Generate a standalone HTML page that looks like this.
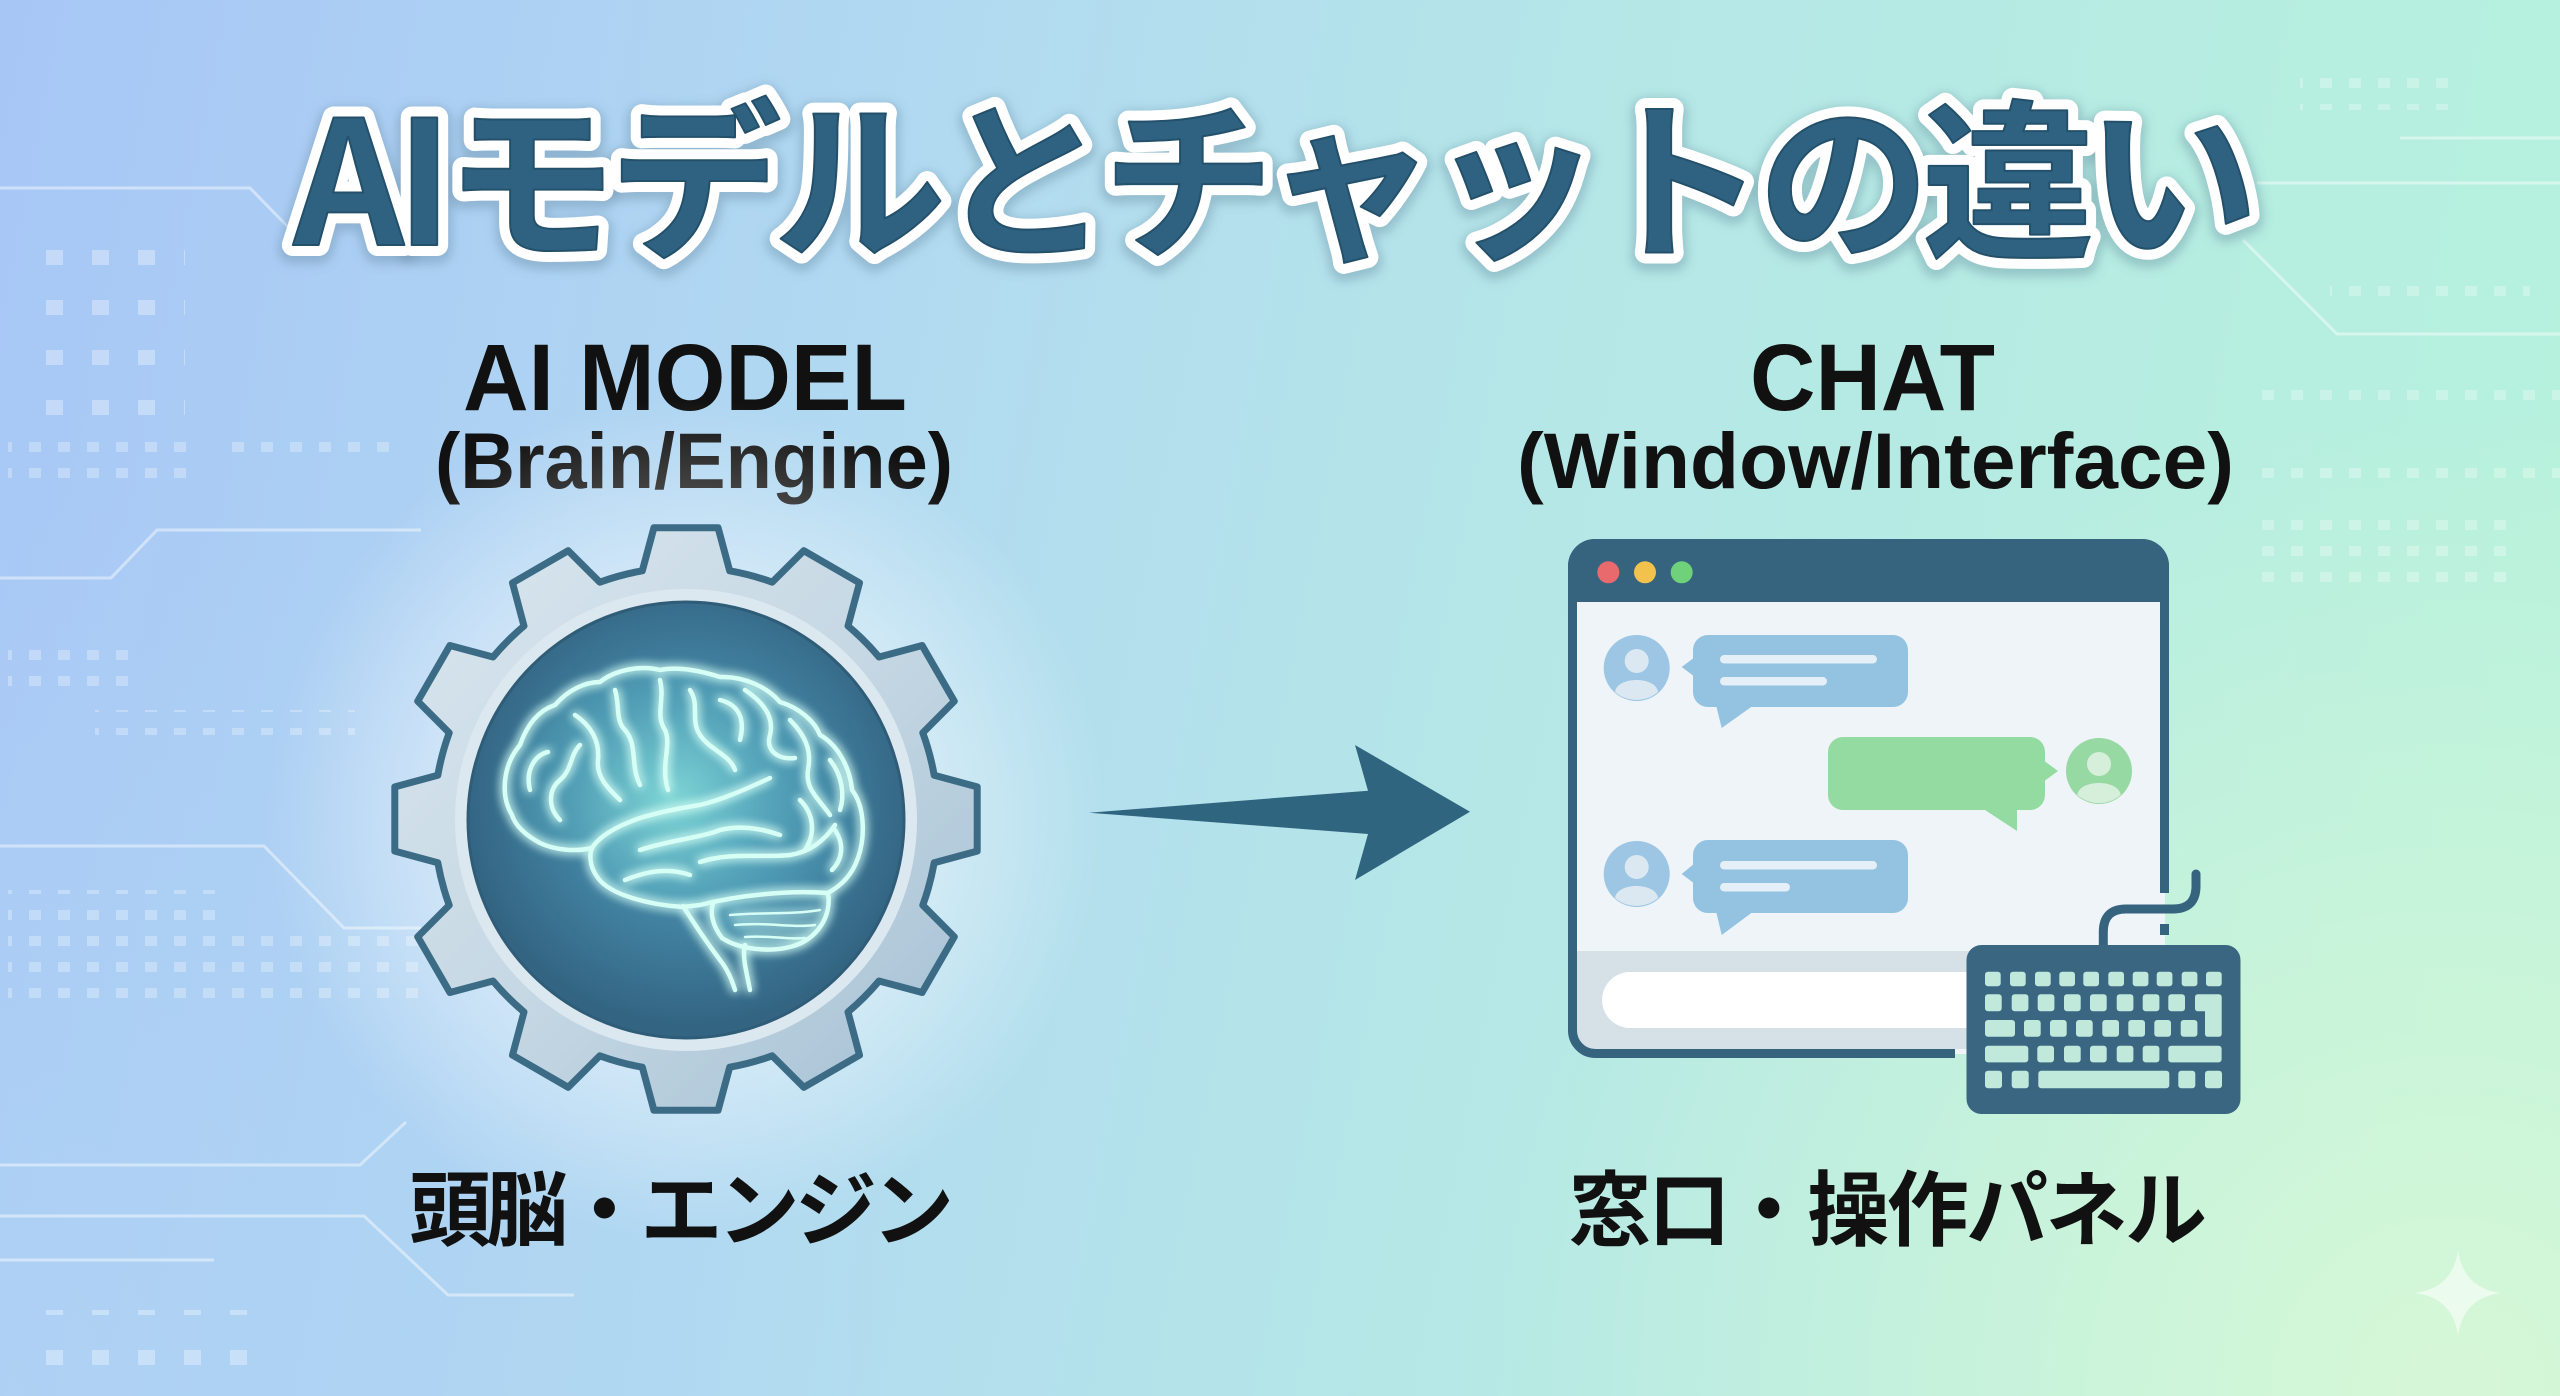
<!DOCTYPE html>
<html><head><meta charset="utf-8">
<style>
html,body{margin:0;padding:0;width:2560px;height:1396px;overflow:hidden;}
svg{display:block;}
</style></head>
<body>
<svg width="2560" height="1396" viewBox="0 0 2560 1396" xmlns="http://www.w3.org/2000/svg">
<defs>
  <linearGradient id="bg" x1="0" y1="0" x2="2560" y2="500" gradientUnits="userSpaceOnUse">
    <stop offset="0" stop-color="#a7c6f6"/>
    <stop offset="0.35" stop-color="#b1d9f1"/>
    <stop offset="0.62" stop-color="#b5e7e7"/>
    <stop offset="1" stop-color="#b6f1dd"/>
  </linearGradient>
  <radialGradient id="bgbr" cx="2450" cy="1396" r="1000" gradientUnits="userSpaceOnUse">
    <stop offset="0" stop-color="#daf8d6" stop-opacity="0.9"/>
    <stop offset="1" stop-color="#daf8d6" stop-opacity="0"/>
  </radialGradient>
  <radialGradient id="bgbl" cx="0" cy="1396" r="900" gradientUnits="userSpaceOnUse">
    <stop offset="0" stop-color="#b0d4f4" stop-opacity="0.6"/>
    <stop offset="1" stop-color="#b0d4f4" stop-opacity="0"/>
  </radialGradient>
  <radialGradient id="gearglow" cx="686" cy="819" r="420" gradientUnits="userSpaceOnUse">
    <stop offset="0" stop-color="#ffffff" stop-opacity="0.8"/>
    <stop offset="0.6" stop-color="#ffffff" stop-opacity="0.4"/>
    <stop offset="1" stop-color="#ffffff" stop-opacity="0"/>
  </radialGradient>
  <linearGradient id="gearbody" x1="400" y1="530" x2="980" y2="1110" gradientUnits="userSpaceOnUse">
    <stop offset="0" stop-color="#d9e6ee"/>
    <stop offset="0.5" stop-color="#c6d8e4"/>
    <stop offset="1" stop-color="#a3bfd3"/>
  </linearGradient>
  <radialGradient id="core" cx="690" cy="800" r="225" gradientUnits="userSpaceOnUse">
    <stop offset="0" stop-color="#57a2bb"/>
    <stop offset="0.55" stop-color="#4282a1"/>
    <stop offset="1" stop-color="#336583"/>
  </radialGradient>
  <radialGradient id="brainfill" cx="670" cy="800" r="190" gradientUnits="userSpaceOnUse">
    <stop offset="0" stop-color="#8ee8de" stop-opacity="0.75"/>
    <stop offset="0.5" stop-color="#66c2cf" stop-opacity="0.45"/>
    <stop offset="1" stop-color="#4a9fbb" stop-opacity="0.25"/>
  </radialGradient>
  <filter id="glow" x="-30%" y="-30%" width="160%" height="160%">
    <feGaussianBlur in="SourceGraphic" stdDeviation="5" result="b"/>
    <feMerge><feMergeNode in="b"/><feMergeNode in="b"/><feMergeNode in="SourceGraphic"/></feMerge>
  </filter>
  <filter id="soft" x="-10%" y="-30%" width="120%" height="160%">
    <feGaussianBlur stdDeviation="5"/>
  </filter>
  <pattern id="sq" width="46" height="50" patternUnits="userSpaceOnUse">
    <rect x="0" y="0" width="17" height="15" fill="#ffffff" fill-opacity="0.32"/>
  </pattern>
  <pattern id="sq2" width="29" height="26" patternUnits="userSpaceOnUse">
    <rect x="0" y="0" width="12" height="10" fill="#ffffff" fill-opacity="0.28"/>
  </pattern>
</defs>

<!-- background -->
<rect width="2560" height="1396" fill="url(#bg)"/>
<rect width="2560" height="1396" fill="url(#bgbl)"/>
<rect width="2560" height="1396" fill="url(#bgbr)"/>

<!-- decorative circuit lines -->
<g stroke="#ffffff" stroke-opacity="0.45" stroke-width="3" fill="none">
  <path d="M0 188 H250 L292 231"/>
  <path d="M0 578 H111 L157 530 H421"/>
  <path d="M0 846 H264 L344 928 H421"/>
  <path d="M0 1165 H360 L406 1122"/>
  <path d="M0 1216 H364 L448 1295 H574"/>
  <path d="M0 1260 H214"/>
  <path d="M2243 240 L2337 334 H2560"/>
  <path d="M2257 183 H2560"/>
  <path d="M2400 138 H2560"/>
</g>
<!-- decorative squares -->
<rect x="20" y="250" width="165" height="165" fill="url(#sq)"/>
<rect x="8" y="430" width="185" height="60" fill="url(#sq2)"/>
<rect x="230" y="430" width="170" height="30" fill="url(#sq2)"/>
<rect x="8" y="640" width="130" height="60" fill="url(#sq2)"/>
<rect x="95" y="710" width="260" height="25" fill="url(#sq2)"/>
<rect x="8" y="890" width="220" height="120" fill="url(#sq2)"/>
<rect x="230" y="930" width="190" height="70" fill="url(#sq2)"/>
<rect x="40" y="1310" width="220" height="70" fill="url(#sq)"/>
<rect x="2260" y="380" width="300" height="30" fill="url(#sq2)"/>
<rect x="2260" y="465" width="300" height="20" fill="url(#sq2)"/>
<rect x="2260" y="505" width="250" height="80" fill="url(#sq2)"/>
<rect x="2300" y="70" width="160" height="40" fill="url(#sq2)"/>
<rect x="2330" y="280" width="200" height="20" fill="url(#sq2)"/>
<!-- sparkle -->
<path d="M2458 1250 Q2463 1288 2501 1293 Q2463 1298 2458 1336 Q2453 1298 2415 1293 Q2453 1288 2458 1250 Z" fill="#ffffff" fill-opacity="0.55"/>

<!-- TITLE -->
<g font-family="'Noto Sans CJK JP','Liberation Sans',sans-serif" font-weight="700" font-size="172" text-anchor="middle">
  <text x="1276" y="249" textLength="1965" lengthAdjust="spacing" fill="none" stroke="#5a7f95" stroke-opacity="0.35" stroke-width="30" stroke-linejoin="round" filter="url(#soft)">AIモデルとチャットの違い</text>
  <text x="1276" y="245" textLength="1965" lengthAdjust="spacing" fill="#2f6281" stroke="#ffffff" stroke-width="22" stroke-linejoin="round" paint-order="stroke">AIモデルとチャットの違い</text>
  <text x="1276" y="245" textLength="1965" lengthAdjust="spacing" fill="#2f6281" stroke="#23506a" stroke-width="2" stroke-linejoin="round">AIモデルとチャットの違い</text>
</g>

<!-- Subtitles -->
<g font-family="'Liberation Sans',sans-serif" font-weight="700" fill="#111111">
  <text x="463" y="410" font-size="95" textLength="444" lengthAdjust="spacingAndGlyphs">AI MODEL</text>
  <text x="435" y="488" font-size="79" textLength="518" lengthAdjust="spacingAndGlyphs">(Brain/Engine)</text>
  <text x="1750" y="410" font-size="95" textLength="245" lengthAdjust="spacingAndGlyphs">CHAT</text>
  <text x="1517" y="488" font-size="79" textLength="717" lengthAdjust="spacingAndGlyphs">(Window/Interface)</text>
</g>

<!-- GEAR -->
<circle cx="686" cy="819" r="420" fill="url(#gearglow)"/>
<path d="M934.2 775.3 L977.2 786.9 L977.2 851.1 L934.2 862.7 A252 252 0 0 1 922.8 905.2 L954.3 936.8 L922.1 992.5 L879.0 981.0 A252 252 0 0 1 848.0 1012.0 L859.5 1055.1 L803.8 1087.3 L772.2 1055.8 A252 252 0 0 1 729.7 1067.2 L718.1 1110.2 L653.9 1110.2 L642.3 1067.2 A252 252 0 0 1 599.8 1055.8 L568.2 1087.3 L512.5 1055.1 L524.0 1012.0 A252 252 0 0 1 493.0 981.0 L449.9 992.5 L417.7 936.8 L449.2 905.2 A252 252 0 0 1 437.8 862.7 L394.8 851.1 L394.8 786.9 L437.8 775.3 A252 252 0 0 1 449.2 732.8 L417.7 701.2 L449.9 645.5 L493.0 657.0 A252 252 0 0 1 524.0 626.0 L512.5 582.9 L568.2 550.7 L599.8 582.2 A252 252 0 0 1 642.3 570.8 L653.9 527.8 L718.1 527.8 L729.7 570.8 A252 252 0 0 1 772.2 582.2 L803.8 550.7 L859.5 582.9 L848.0 626.0 A252 252 0 0 1 879.0 657.0 L922.1 645.5 L954.3 701.2 L922.8 732.8 A252 252 0 0 1 934.2 775.3 Z" fill="url(#gearbody)" stroke="#3c6b86" stroke-width="7" stroke-linejoin="round"/>
<circle cx="686" cy="820" r="231" fill="#dbe8f0"/>
<circle cx="686" cy="820" r="218" fill="url(#core)" stroke="#2f5c77" stroke-width="3"/>

<!-- BRAIN -->
<path d="M512 815 C500 795 503 765 520 745 C528 722 540 710 555 705 C568 690 585 682 600 682 C615 670 640 665 660 670 C680 666 705 672 720 677 C745 676 768 688 780 702 C800 708 815 722 820 735 C838 745 850 768 852 790 C864 805 866 835 858 858 C852 875 842 885 828 893 C790 890 740 895 700 905 L683 907 C650 905 610 895 598 878 C588 865 590 852 592 848 C575 852 555 850 540 843 C525 835 515 825 512 815 Z M828 893 C832 915 818 940 790 947 C770 952 740 950 722 938 C712 925 710 912 713 903 Z" fill="url(#brainfill)"/>
<g fill="none" stroke="#d6fff5" stroke-width="4.5" stroke-linecap="round" stroke-linejoin="round" filter="url(#glow)">
  <path d="M512 815 C500 795 503 765 520 745 C528 722 540 710 555 705 C568 690 585 682 600 682 C615 670 640 665 660 670 C680 666 705 672 720 677 C745 676 768 688 780 702 C800 708 815 722 820 735 C838 745 850 768 852 790 C864 805 866 835 858 858 C852 875 842 885 828 893 C790 890 740 895 700 905 L683 907 C650 905 610 895 598 878 C588 865 590 852 592 848 C575 852 555 850 540 843 C525 835 515 825 512 815 Z"/>
  <path d="M828 893 C832 915 818 940 790 947 C770 952 740 950 722 938 C712 925 710 912 713 903"/>
  <path d="M730 915 C760 912 790 915 820 910" stroke-width="2.5"/>
  <path d="M735 925 C765 922 795 928 815 925" stroke-width="2.5"/>
  <path d="M745 937 C770 935 790 940 805 938" stroke-width="2.5"/>
  <path d="M683 906 C695 925 705 940 720 960 C728 970 732 980 735 990"/>
  <path d="M750 990 C746 970 742 955 745 945"/>
  <path d="M592 848 C600 835 620 825 640 818 C660 812 680 808 700 805 C720 800 740 792 770 778"/>
  <path d="M625 880 C650 870 670 868 690 875"/>
  <path d="M640 850 C670 840 700 838 720 830 C740 825 760 828 780 835"/>
  <path d="M700 862 C730 852 760 858 790 855 C810 852 825 840 835 825"/>
  <path d="M530 790 C525 770 535 755 548 752"/>
  <path d="M560 820 C548 808 548 790 560 780 C572 770 570 755 580 745"/>
  <path d="M575 715 C590 725 600 740 598 760 C596 778 610 790 620 800"/>
  <path d="M615 690 C620 705 615 720 625 730 C638 745 630 765 640 785"/>
  <path d="M660 680 C665 700 655 715 665 730 C672 745 660 765 668 790"/>
  <path d="M690 690 C700 705 690 720 700 735 C710 750 730 755 735 770"/>
  <path d="M720 700 C740 705 745 720 740 740"/>
  <path d="M745 690 C760 700 775 715 770 735 C765 752 780 760 795 758"/>
  <path d="M790 720 C805 735 812 750 808 770 C805 790 820 800 830 815"/>
  <path d="M830 760 C842 775 845 795 840 810"/>
  <path d="M800 800 C815 815 815 835 805 850"/>
  <path d="M835 830 C845 845 842 860 832 870"/>
</g>

<!-- ARROW -->
<path d="M1089 812.7 L1368 790.7 L1355 745 L1470 811.7 L1355 880 L1368 834 Z" fill="#30657f"/>

<!-- CHAT WINDOW -->
<rect x="1572" y="543" width="593" height="511" rx="23" fill="#eef4f8"/>
<path d="M1568 602 L1568 566 A27 27 0 0 1 1595 539 L2142 539 A27 27 0 0 1 2169 566 L2169 602 Z" fill="#36647f"/>
<circle cx="1608.3" cy="572.3" r="11" fill="#e86a6c"/>
<circle cx="1645" cy="572.3" r="11" fill="#f2c24d"/>
<circle cx="1681.7" cy="572.3" r="11" fill="#6fd27b"/>
<!-- input area -->
<rect x="1577" y="951" width="588" height="98" fill="#d6e0e7"/>
<rect x="1602" y="972" width="420" height="56" rx="28" fill="#ffffff"/>
<!-- window border -->
<path d="M1955 1053.5 L1595.5 1053.5 A23 23 0 0 1 1572.5 1030.5 L1572.5 566.5 A23 23 0 0 1 1595.5 543.5 L2141.5 543.5 A23 23 0 0 1 2164.5 566.5 L2164.5 893 M2164.5 924 L2164.5 935" fill="none" stroke="#36647f" stroke-width="9"/>

<!-- message 1 -->
<circle cx="1636.7" cy="668" r="33" fill="#9cc6e3"/>
<circle cx="1636.7" cy="661" r="12" fill="#dbe8f2"/>
<path d="M1615 692 C1617 676 1656 676 1658 692 A33 33 0 0 1 1615 692 Z" fill="#dbe8f2"/>
<rect x="1693" y="635" width="215" height="72" rx="15" fill="#93c3e1"/>
<path d="M1695 657 L1681.7 667 L1695 677 Z" fill="#93c3e1"/>
<path d="M1716 705 L1721.7 728 L1754 705 Z" fill="#93c3e1"/>
<rect x="1720" y="655" width="157" height="8.5" rx="4.2" fill="#e4eff8"/>
<rect x="1720" y="677" width="107" height="8.5" rx="4.2" fill="#e4eff8"/>

<!-- message 2 (green) -->
<rect x="1828" y="737" width="217" height="73" rx="15" fill="#93dba0"/>
<path d="M2043 760 L2058 771 L2043 782 Z" fill="#93dba0"/>
<path d="M1982 808 L2017 831 L2017 808 Z" fill="#93dba0"/>
<circle cx="2099" cy="771" r="33" fill="#97d9a3"/>
<circle cx="2099" cy="764" r="12" fill="#d6efdb"/>
<path d="M2077.3 795 C2079.3 779 2118.7 779 2120.7 795 A33 33 0 0 1 2077.3 795 Z" fill="#d6efdb"/>

<!-- message 3 -->
<circle cx="1636.7" cy="874" r="33" fill="#9cc6e3"/>
<circle cx="1636.7" cy="867" r="12" fill="#dbe8f2"/>
<path d="M1615 898 C1617 882 1656 882 1658 898 A33 33 0 0 1 1615 898 Z" fill="#dbe8f2"/>
<rect x="1693" y="840" width="215" height="73" rx="15" fill="#93c3e1"/>
<path d="M1695 863 L1681.7 874 L1695 884 Z" fill="#93c3e1"/>
<path d="M1716 911 L1721.7 935 L1754 911 Z" fill="#93c3e1"/>
<rect x="1720" y="861" width="157" height="8.5" rx="4.2" fill="#e4eff8"/>
<rect x="1720" y="883" width="70" height="8.5" rx="4.2" fill="#e4eff8"/>

<!-- keyboard cable -->
<path d="M2103.3 947 L2103.3 932 Q2103.3 909 2126 909 L2173 909 Q2196 909 2196 886 L2196 874" fill="none" stroke="#36647f" stroke-width="9" stroke-linecap="round"/>
<!-- keyboard -->
<rect x="1966.5" y="945" width="274" height="169" rx="15" fill="#3b6681"/>
<g fill="#c0e9dc">
  <rect x="1985" y="971.7" width="15.7" height="14.5" rx="3"/>
  <rect x="2010" y="971.7" width="15.7" height="14.5" rx="3"/>
  <rect x="2035" y="971.7" width="15.7" height="14.5" rx="3"/>
  <rect x="2059.3" y="971.7" width="15.7" height="14.5" rx="3"/>
  <rect x="2083.3" y="971.7" width="15.7" height="14.5" rx="3"/>
  <rect x="2108.3" y="971.7" width="15.7" height="14.5" rx="3"/>
  <rect x="2132.7" y="971.7" width="15.7" height="14.5" rx="3"/>
  <rect x="2156.7" y="971.7" width="15.7" height="14.5" rx="3"/>
  <rect x="2181.7" y="971.7" width="15.7" height="14.5" rx="3"/>
  <rect x="2206" y="971.7" width="15.7" height="14.5" rx="3"/>
  <rect x="1985" y="994.3" width="16.7" height="17" rx="3"/>
  <rect x="2011.7" y="994.3" width="16.7" height="17" rx="3"/>
  <rect x="2037.7" y="994.3" width="16.7" height="17" rx="3"/>
  <rect x="2064" y="994.3" width="16.7" height="17" rx="3"/>
  <rect x="2090" y="994.3" width="16.7" height="17" rx="3"/>
  <rect x="2116.7" y="994.3" width="16.7" height="17" rx="3"/>
  <rect x="2142.7" y="994.3" width="16.7" height="17" rx="3"/>
  <rect x="2168.3" y="994.3" width="16.7" height="17" rx="3"/>
  <path d="M2198 994.3 H2218.7 Q2221.7 994.3 2221.7 997.3 V1033.7 Q2221.7 1036.7 2218.7 1036.7 H2208 Q2205 1036.7 2205 1033.7 V1011.3 H2198 Q2195 1011.3 2195 1008.3 V997.3 Q2195 994.3 2198 994.3 Z"/>
  <rect x="1985" y="1020" width="30" height="16.7" rx="3"/>
  <rect x="2024" y="1020" width="16.7" height="16.7" rx="3"/>
  <rect x="2050" y="1020" width="16.7" height="16.7" rx="3"/>
  <rect x="2076" y="1020" width="16.7" height="16.7" rx="3"/>
  <rect x="2102.3" y="1020" width="16.7" height="16.7" rx="3"/>
  <rect x="2128.3" y="1020" width="16.7" height="16.7" rx="3"/>
  <rect x="2154.3" y="1020" width="16.7" height="16.7" rx="3"/>
  <rect x="2180.7" y="1020" width="16.7" height="16.7" rx="3"/>
  <rect x="1985" y="1045.7" width="43.3" height="16.7" rx="3"/>
  <rect x="2037.3" y="1045.7" width="16.7" height="16.7" rx="3"/>
  <rect x="2064" y="1045.7" width="16.7" height="16.7" rx="3"/>
  <rect x="2090" y="1045.7" width="16.7" height="16.7" rx="3"/>
  <rect x="2116.7" y="1045.7" width="16.7" height="16.7" rx="3"/>
  <rect x="2142.7" y="1045.7" width="16.7" height="16.7" rx="3"/>
  <rect x="2168.3" y="1045.7" width="53.3" height="16.7" rx="3"/>
  <rect x="1985" y="1070.7" width="17" height="17.6" rx="3"/>
  <rect x="2011.7" y="1070.7" width="17" height="17.6" rx="3"/>
  <rect x="2038.3" y="1070.7" width="131" height="17.6" rx="3"/>
  <rect x="2178.3" y="1070.7" width="17" height="17.6" rx="3"/>
  <rect x="2205" y="1070.7" width="17" height="17.6" rx="3"/>
</g>

<!-- bottom Japanese labels -->
<g font-family="'Liberation Sans','Noto Sans CJK JP',sans-serif" font-weight="700" font-size="82" fill="#111111">
  <text x="409" y="1239" textLength="545" lengthAdjust="spacing">頭脳・エンジン</text>
  <text x="1569" y="1239" textLength="638" lengthAdjust="spacing">窓口・操作パネル</text>
</g>
</svg>
</body></html>
